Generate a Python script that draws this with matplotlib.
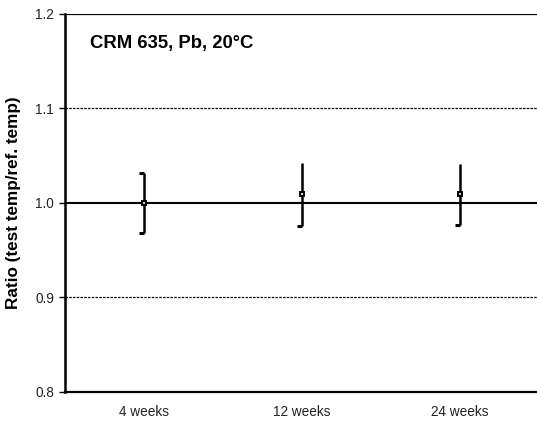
import matplotlib
matplotlib.use("Agg")
import matplotlib.pyplot as plt
import numpy as np
from matplotlib.path import Path

# Stability study: ratio of test temperature to reference temperature
CATEGORIES = ["4 weeks", "12 weeks", "24 weeks"]
RATIO = [1.000, 1.009, 1.009]
UNCERTAINTY = [0.032, 0.033, 0.032]
TITLE = "CRM 635, Pb, 20°C"
YLABEL = "Ratio (test temp/ref. temp)"
YTICKS = [0.8, 0.9, 1.0, 1.1, 1.2]

plt.rcParams["font.family"] = ["Liberation Sans", "DejaVu Sans"]

# half cap that sticks out to the left of the bar only
LEFT_CAP = Path([(-1.0, 0.0), (0.0, 0.0)], [Path.MOVETO, Path.LINETO])

fig = plt.figure(figsize=(5.37, 4.23), dpi=100)
ax = fig.add_axes([65 / 537, 31 / 423, 474 / 537, 378 / 423])

x = np.arange(len(CATEGORIES)) + 0.5
y = np.array(RATIO)
err = np.array(UNCERTAINTY)

# grid lines
for g in (0.9, 1.1):
    ax.axhline(g, color="black", linewidth=0.9, linestyle=(0, (2, 1)), zorder=1)
ax.axhline(1.2, color="black", linewidth=1.6, zorder=1)
ax.axhline(1.0, color="black", linewidth=1.5, zorder=2)

ax.errorbar(x, y, yerr=err, fmt="none", ecolor="black", elinewidth=1.8,
            capsize=0, zorder=3)
ax.plot(x[:1], (y + err)[:1], linestyle="none", marker=LEFT_CAP,
        markersize=7, markeredgewidth=2.2, color="black", zorder=3)
ax.plot(x, y - err, linestyle="none", marker=LEFT_CAP,
        markersize=7, markeredgewidth=2.2, color="black", zorder=3)
ax.plot(x, y, linestyle="none", marker="s", markersize=3.2,
        markerfacecolor="#cccccc", markeredgecolor="black",
        markeredgewidth=1.4, zorder=4)

ax.set_xlim(0, len(CATEGORIES))
ax.set_ylim(0.8, 1.2)
ax.set_xticks(x)
ax.set_xticklabels(CATEGORIES)
ax.set_yticks(YTICKS)
ax.set_yticklabels([f"{t:.1f}" for t in YTICKS])
ax.tick_params(axis="x", length=0, pad=9, labelsize=9.8, colors="#222222")
ax.tick_params(axis="y", length=4, width=1, pad=4, labelsize=9.8,
               colors="#222222")
ax.tick_params(axis="y", color="black")

for side in ("top", "right"):
    ax.spines[side].set_visible(False)
ax.spines["left"].set_linewidth(1.8)
ax.spines["bottom"].set_linewidth(1.6)

ax.set_ylabel(YLABEL, fontsize=12.3, fontweight="bold", labelpad=10)
ax.text(0.053, 0.923, TITLE, transform=ax.transAxes, fontsize=13.3,
        fontweight="bold", va="center", ha="left")

fig.savefig("out.png", dpi=100)
